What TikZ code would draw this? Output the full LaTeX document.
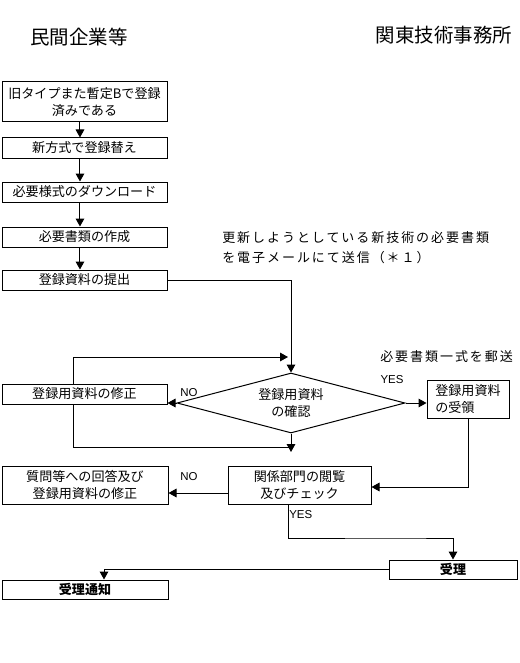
\documentclass[tikz,border=0pt]{standalone}
\usepackage{fontspec}
\setmainfont{Noto Sans CJK JP}
\newfontfamily\latinf{Liberation Sans}
\usetikzlibrary{arrows.meta,shapes.geometric}
\tikzset{
  box/.style={draw, line width=0.75pt, inner sep=0pt, align=center,
    font=\fontsize{9.8pt}{12.75pt}\selectfont},
  bx/.style 2 args={minimum width=#1*0.75pt, minimum height=#2*0.75pt},
  arr/.style={line width=0.75pt, -{Triangle[length=6pt,width=6.5pt]}},
  ln/.style={line width=0.75pt},
  titletext/.style={inner sep=0pt, font=\fontsize{14.6pt}{17pt}\selectfont},
  notetext/.style={inner sep=0pt, align=left,
    font=\fontsize{9.75pt}{15pt}\selectfont\addfontfeature{LetterSpace=15}},
  yn/.style={inner sep=0pt, font=\latinf\fontsize{8.6pt}{10pt}\selectfont}
}
\begin{document}
\begin{tikzpicture}[x=0.75pt,y=-0.75pt]
\useasboundingbox (0,0) rectangle (520,663);

% titles
\node[titletext] (t1) at (79,37) {民間企業等};
\node[titletext] (t2) at (444,35) {関東技術事務所};

% left column boxes
\node[box, bx={165}{40}] (b1) at (84.5,102) {旧タイプまた暫定Bで登録\\済みである};
\node[box, bx={165}{20}] (b2) at (84.5,148) {新方式で登録替え};
\node[box, bx={165}{20}] (b3) at (84.5,192) {必要様式のダウンロード};
\node[box, bx={165}{20}] (b4) at (84.5,237) {必要書類の作成};
\node[box, bx={165}{20}] (b5) at (84.5,280) {登録資料の提出};
\node[box, bx={165}{20}] (mod) at (84.5,394) {登録用資料の修正};

% decision
\node[box, diamond, shape aspect=3.6, bx={228}{60}] (dia) at (291,403) {登録用資料\\の確認};
\node[box, align=left, bx={82}{38}] (rec) at (468,399) {登録用資料\\の受領};

\node[box, bx={143}{38}] (chk) at (299.5,485) {関係部門の閲覧\\及びチェック};
\node[box, bx={166}{38}] (ans) at (85,485) {質問等への回答及び\\登録用資料の修正};
\node[box, bx={128}{19}] (acc) at (453,569.5) {\bfseries 受理};
\node[box, bx={166}{19}] (ntf) at (85,589.5) {\bfseries 受理通知};

% notes and labels
\node[notetext, anchor=west] (n1) at (222,248) {更新しようとしている新技術の必要書類\\を電子メールにて送信（＊１）};
\node[notetext, anchor=west] (n2) at (380,357) {必要書類一式を郵送};
\node[yn] (no1) at (189,393) {NO};
\node[yn] (yes1) at (392,380) {YES};
\node[yn] (no2) at (189,477) {NO};
\node[yn, anchor=west] (yes2) at (289,515) {YES};

% coordinates
\coordinate (lt) at (288,357);
\coordinate (lb) at (291,452);
\coordinate (lj) at (289,447);
\coordinate (yc) at (400,538);

% connectors
\draw[arr] ([xshift=-3.4pt]b1.south) -- ([xshift=-3.4pt]b2.north);
\draw[arr] ([xshift=-3.4pt]b2.south) -- ([xshift=-3.4pt]b3.north);
\draw[arr] ([xshift=-3.4pt]b3.south) -- ([xshift=-3.4pt]b4.north);
\draw[arr] ([xshift=-3.4pt]b4.south) -- ([xshift=-3.4pt]b5.north);
\draw[arr] (b5.east) -| (dia.north);
\draw[arr] ([xshift=-8.6pt]mod.north) |- (lt);
\draw[arr] (dia.west) -- (dia.west -| mod.east);
\draw[arr] (dia.east) -- (dia.east -| rec.west);
\draw[arr] (dia.south) -- (lb);
\draw[ln] ([xshift=-8.6pt]mod.south) |- (lj);
\draw[arr] (rec.south) |- ([yshift=-1.5pt]chk.east);
\draw[arr] ([yshift=-6pt]chk.west) -- ([yshift=-6pt]ans.east);
\draw[arr] ([xshift=-7.9pt]chk.south) |- (yc) -| (acc.north);
\draw[arr] (acc.west) -| ([xshift=14.25pt]ntf.north);
\end{tikzpicture}
\end{document}
